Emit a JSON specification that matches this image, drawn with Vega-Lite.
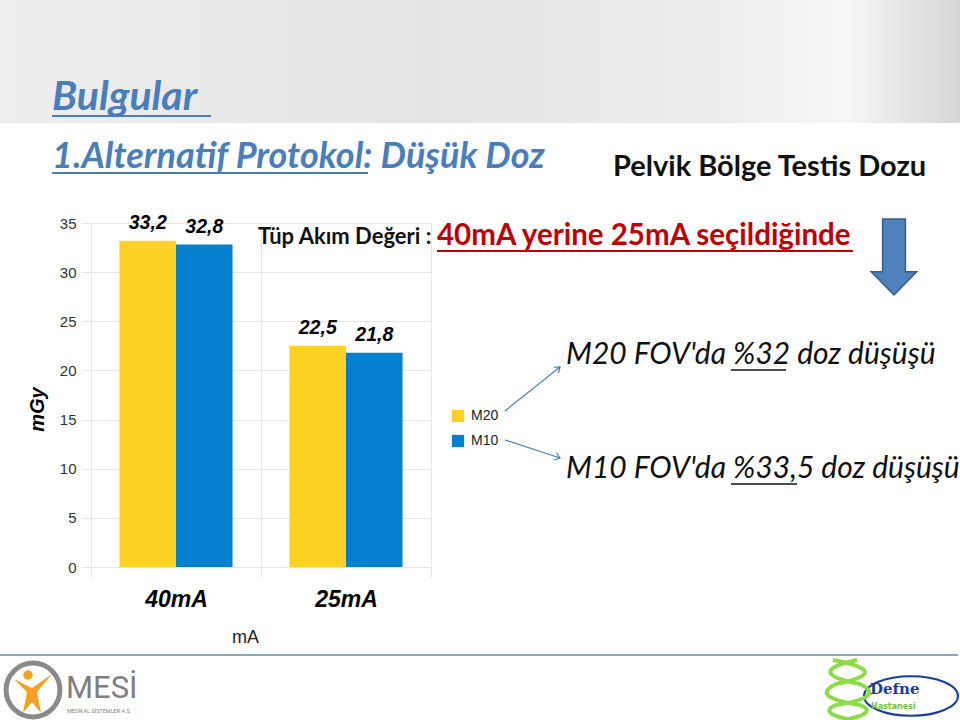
{
  "$schema": "https://vega.github.io/schema/vega-lite/v6.json",
  "width": 340,
  "height": 344,
  "autosize": {"type": "none"},
  "padding": {"left": 91, "top": 223, "right": 529, "bottom": 153},
  "background": "white",
  "data": {"values": [{"note": 1}]},
  "config": {
    "view": {"stroke": null},
    "font": "Liberation Sans",
    "locale": {"number": {"decimal": ",", "thousands": ".", "grouping": [3], "currency": ["", " TL"]}}
  },
  "resolve": {"scale": {"x": "independent", "y": "independent", "color": "independent"}},
  "layer": [
    {
      "mark": {"type": "rect", "fill": {"gradient": "linear", "x1": 0, "x2": 1, "y1": 0, "y2": 0, "stops": [{"offset": 0, "color": "#eeeeee"}, {"offset": 0.45, "color": "#e4e4e4"}, {"offset": 0.75, "color": "#ededed"}, {"offset": 0.88, "color": "#f6f6f6"}, {"offset": 1, "color": "#d6d6d6"}]}},
      "encoding": {
        "x": {"datum": 0, "type": "quantitative", "scale": {"domain": [0, 960], "range": [-91, 869]}, "axis": null},
        "x2": {"datum": 960},
        "y": {"datum": 0, "type": "quantitative", "scale": {"domain": [0, 720], "range": [-223, 497]}, "axis": null},
        "y2": {"datum": 123}
      }
    },
    {
      "mark": {"type": "rule", "stroke": "#86a9b9", "strokeWidth": 2},
      "encoding": {
        "x": {"datum": 0, "type": "quantitative", "scale": {"domain": [0, 960], "range": [-91, 869]}, "axis": null},
        "x2": {"datum": 958},
        "y": {"datum": 655, "type": "quantitative", "scale": {"domain": [0, 720], "range": [-223, 497]}, "axis": null}
      }
    },
    {
      "data": {"values": [
        {"current": "40mA", "series": "M20", "value": 33.2},
        {"current": "40mA", "series": "M10", "value": 32.8},
        {"current": "25mA", "series": "M20", "value": 22.5},
        {"current": "25mA", "series": "M10", "value": 21.8}
      ]},
      "encoding": {
        "x": {
          "field": "current", "type": "nominal", "sort": ["40mA", "25mA"],
          "scale": {"paddingInner": 0, "paddingOuter": 0},
          "axis": {
            "title": "mA", "tickBand": "extent", "grid": true, "gridColor": "#e6e6e6", "domain": false,
            "tickColor": "#e6e6e6", "tickSize": 10, "labelPadding": 11, "labelAngle": 0,
            "labelFont": "Liberation Sans", "labelFontSize": 23, "labelFontStyle": "italic", "labelFontWeight": "bold", "labelColor": "#000",
            "titleFont": "Liberation Sans", "titleFontSize": 18, "titleFontWeight": "normal", "titleColor": "#222",
            "titleX": 154, "titleY": 75, "titleBaseline": "alphabetic", "titleAlign": "center"
          }
        },
        "xOffset": {"field": "series", "type": "nominal", "sort": ["M20", "M10"], "scale": {"paddingInner": 0, "paddingOuter": 0.504}},
        "y": {
          "field": "value", "type": "quantitative", "scale": {"domain": [0, 35], "nice": false},
          "axis": {
            "title": "mGy", "values": [0, 5, 10, 15, 20, 25, 30, 35], "grid": true, "gridColor": "#e6e6e6", "domain": false,
            "tickColor": "#e6e6e6", "tickSize": 9, "labelPadding": 6,
            "labelFont": "Liberation Sans", "labelFontSize": 15, "labelColor": "#333",
            "titleFont": "Liberation Sans", "titleFontSize": 20, "titleFontStyle": "italic", "titleFontWeight": "bold", "titleColor": "#000",
            "titleAngle": 270, "titleX": -54, "titleY": 186, "titleAlign": "center", "titleBaseline": "middle"
          }
        }
      },
      "layer": [
        {
          "mark": {"type": "bar"},
          "encoding": {
            "color": {
              "field": "series", "type": "nominal", "sort": ["M20", "M10"],
              "scale": {"domain": ["M20", "M10"], "range": ["#fdd224", "#0480cf"]},
              "legend": {
                "title": null, "orient": "none", "legendX": 360, "legendY": 186,
                "symbolType": "square", "symbolSize": 150, "symbolStrokeWidth": 0,
                "labelFont": "Liberation Sans", "labelFontSize": 14, "labelColor": "#222", "labelOffset": 6, "rowPadding": 11
              }
            }
          }
        },
        {
          "mark": {"type": "text", "dy": -11.5, "baseline": "alphabetic", "fontStyle": "italic", "fontWeight": "bold", "fontSize": 19.5, "color": "#000", "font": "Liberation Sans"},
          "encoding": {"text": {"field": "value", "type": "quantitative", "format": ".1f"}}
        }
      ]
    },
    {
      "mark": {"type": "text", "align": "left", "baseline": "alphabetic", "font": "Lato", "fontSize": 41, "fontWeight": "bold", "fontStyle": "italic", "color": "#4a7ebb"},
      "encoding": {
        "x": {"datum": 52, "type": "quantitative", "scale": {"domain": [0, 960], "range": [-91, 869]}, "axis": null},
        "y": {"datum": 110, "type": "quantitative", "scale": {"domain": [0, 720], "range": [-223, 497]}, "axis": null},
        "text": {"datum": "Bulgular"}
      }
    },
    {
      "mark": {"type": "rule", "stroke": "#4a7ebb", "strokeWidth": 2},
      "encoding": {
        "x": {"datum": 52, "type": "quantitative", "scale": {"domain": [0, 960], "range": [-91, 869]}, "axis": null},
        "x2": {"datum": 211},
        "y": {"datum": 116, "type": "quantitative", "scale": {"domain": [0, 720], "range": [-223, 497]}, "axis": null}
      }
    },
    {
      "mark": {"type": "text", "align": "left", "baseline": "alphabetic", "font": "Lato", "fontSize": 36, "fontWeight": "bold", "fontStyle": "italic", "color": "#4a7ebb"},
      "encoding": {
        "x": {"datum": 52, "type": "quantitative", "scale": {"domain": [0, 960], "range": [-91, 869]}, "axis": null},
        "y": {"datum": 168, "type": "quantitative", "scale": {"domain": [0, 720], "range": [-223, 497]}, "axis": null},
        "text": {"datum": "1.Alternatif Protokol: Düşük Doz"}
      }
    },
    {
      "mark": {"type": "rule", "stroke": "#4a7ebb", "strokeWidth": 2},
      "encoding": {
        "x": {"datum": 52, "type": "quantitative", "scale": {"domain": [0, 960], "range": [-91, 869]}, "axis": null},
        "x2": {"datum": 368},
        "y": {"datum": 173, "type": "quantitative", "scale": {"domain": [0, 720], "range": [-223, 497]}, "axis": null}
      }
    },
    {
      "mark": {"type": "text", "align": "left", "baseline": "alphabetic", "font": "Lato", "fontSize": 29, "fontWeight": "bold", "color": "#111"},
      "encoding": {
        "x": {"datum": 613, "type": "quantitative", "scale": {"domain": [0, 960], "range": [-91, 869]}, "axis": null},
        "y": {"datum": 176, "type": "quantitative", "scale": {"domain": [0, 720], "range": [-223, 497]}, "axis": null},
        "text": {"datum": "Pelvik Bölge Testis Dozu"}
      }
    },
    {
      "mark": {"type": "text", "align": "left", "baseline": "alphabetic", "font": "Lato", "fontSize": 22, "fontWeight": "bold", "color": "#111"},
      "encoding": {
        "x": {"datum": 258, "type": "quantitative", "scale": {"domain": [0, 960], "range": [-91, 869]}, "axis": null},
        "y": {"datum": 244, "type": "quantitative", "scale": {"domain": [0, 720], "range": [-223, 497]}, "axis": null},
        "text": {"datum": "Tüp Akım Değeri :"}
      }
    },
    {
      "mark": {"type": "text", "align": "left", "baseline": "alphabetic", "font": "Lato", "fontSize": 29.5, "fontWeight": "bold", "color": "#c00000"},
      "encoding": {
        "x": {"datum": 437, "type": "quantitative", "scale": {"domain": [0, 960], "range": [-91, 869]}, "axis": null},
        "y": {"datum": 245, "type": "quantitative", "scale": {"domain": [0, 720], "range": [-223, 497]}, "axis": null},
        "text": {"datum": "40mA yerine 25mA seçildiğinde"}
      }
    },
    {
      "mark": {"type": "rule", "stroke": "#c00000", "strokeWidth": 2},
      "encoding": {
        "x": {"datum": 437, "type": "quantitative", "scale": {"domain": [0, 960], "range": [-91, 869]}, "axis": null},
        "x2": {"datum": 853},
        "y": {"datum": 251, "type": "quantitative", "scale": {"domain": [0, 720], "range": [-223, 497]}, "axis": null}
      }
    },
    {
      "mark": {"type": "point", "shape": "M-0.3,-1L0.3,-1L0.3,0.39L0.6,0.39L0,1L-0.6,0.39L-0.3,0.39Z", "size": 5776, "filled": true, "fill": "#4f81bd", "stroke": "#385d8a", "strokeWidth": 1.5, "opacity": 1},
      "encoding": {
        "x": {"datum": 894, "type": "quantitative", "scale": {"domain": [0, 960], "range": [-91, 869]}, "axis": null},
        "y": {"datum": 257, "type": "quantitative", "scale": {"domain": [0, 720], "range": [-223, 497]}, "axis": null}
      }
    },
    {
      "mark": {"type": "text", "align": "left", "baseline": "alphabetic", "font": "Lato", "fontSize": 30, "fontStyle": "italic", "color": "#111"},
      "encoding": {
        "x": {"datum": 566, "type": "quantitative", "scale": {"domain": [0, 960], "range": [-91, 869]}, "axis": null},
        "y": {"datum": 364, "type": "quantitative", "scale": {"domain": [0, 720], "range": [-223, 497]}, "axis": null},
        "text": {"datum": "M20 FOV'da %32 doz düşüşü"}
      }
    },
    {
      "mark": {"type": "rule", "stroke": "#111", "strokeWidth": 1.5},
      "encoding": {
        "x": {"datum": 731, "type": "quantitative", "scale": {"domain": [0, 960], "range": [-91, 869]}, "axis": null},
        "x2": {"datum": 786},
        "y": {"datum": 370, "type": "quantitative", "scale": {"domain": [0, 720], "range": [-223, 497]}, "axis": null}
      }
    },
    {
      "mark": {"type": "text", "align": "left", "baseline": "alphabetic", "font": "Lato", "fontSize": 30, "fontStyle": "italic", "color": "#111"},
      "encoding": {
        "x": {"datum": 566, "type": "quantitative", "scale": {"domain": [0, 960], "range": [-91, 869]}, "axis": null},
        "y": {"datum": 478, "type": "quantitative", "scale": {"domain": [0, 720], "range": [-223, 497]}, "axis": null},
        "text": {"datum": "M10 FOV'da %33,5 doz düşüşü"}
      }
    },
    {
      "mark": {"type": "rule", "stroke": "#111", "strokeWidth": 1.5},
      "encoding": {
        "x": {"datum": 731, "type": "quantitative", "scale": {"domain": [0, 960], "range": [-91, 869]}, "axis": null},
        "x2": {"datum": 797},
        "y": {"datum": 484, "type": "quantitative", "scale": {"domain": [0, 720], "range": [-223, 497]}, "axis": null}
      }
    },
    {
      "mark": {"type": "rule", "stroke": "#4a7ebb", "strokeWidth": 1.2},
      "encoding": {
        "x": {"datum": 505, "type": "quantitative", "scale": {"domain": [0, 960], "range": [-91, 869]}, "axis": null},
        "x2": {"datum": 560},
        "y": {"datum": 411, "type": "quantitative", "scale": {"domain": [0, 720], "range": [-223, 497]}, "axis": null},
        "y2": {"datum": 367}
      }
    },
    {
      "mark": {"type": "rule", "stroke": "#4a7ebb", "strokeWidth": 1.2},
      "encoding": {
        "x": {"datum": 505, "type": "quantitative", "scale": {"domain": [0, 960], "range": [-91, 869]}, "axis": null},
        "x2": {"datum": 560},
        "y": {"datum": 440, "type": "quantitative", "scale": {"domain": [0, 720], "range": [-223, 497]}, "axis": null},
        "y2": {"datum": 458}
      }
    },
    {
      "mark": {"type": "point", "shape": "M-1,-0.75L0,0L-1,0.75", "size": 100, "filled": false, "stroke": "#4a7ebb", "strokeWidth": 1.2, "angle": -39, "opacity": 1},
      "encoding": {
        "x": {"datum": 560, "type": "quantitative", "scale": {"domain": [0, 960], "range": [-91, 869]}, "axis": null},
        "y": {"datum": 367, "type": "quantitative", "scale": {"domain": [0, 720], "range": [-223, 497]}, "axis": null}
      }
    },
    {
      "mark": {"type": "point", "shape": "M-1,-0.75L0,0L-1,0.75", "size": 100, "filled": false, "stroke": "#4a7ebb", "strokeWidth": 1.2, "angle": 18, "opacity": 1},
      "encoding": {
        "x": {"datum": 560, "type": "quantitative", "scale": {"domain": [0, 960], "range": [-91, 869]}, "axis": null},
        "y": {"datum": 458, "type": "quantitative", "scale": {"domain": [0, 720], "range": [-223, 497]}, "axis": null}
      }
    },
    {
      "mark": {"type": "point", "shape": "circle", "size": 2900, "filled": false, "stroke": "#8a8a8a", "strokeWidth": 5, "opacity": 1},
      "encoding": {
        "x": {"datum": 33, "type": "quantitative", "scale": {"domain": [0, 960], "range": [-91, 869]}, "axis": null},
        "y": {"datum": 690, "type": "quantitative", "scale": {"domain": [0, 720], "range": [-223, 497]}, "axis": null}
      }
    },
    {
      "mark": {"type": "point", "shape": "M-0.9,-0.7L-0.25,-0.05L-0.45,1L0,0.45L0.45,1L0.25,-0.05L1,-0.95L0,-0.25Z", "size": 1600, "filled": true, "fill": "#f5a020", "strokeWidth": 0, "opacity": 1},
      "encoding": {
        "x": {"datum": 32, "type": "quantitative", "scale": {"domain": [0, 960], "range": [-91, 869]}, "axis": null},
        "y": {"datum": 693, "type": "quantitative", "scale": {"domain": [0, 720], "range": [-223, 497]}, "axis": null}
      }
    },
    {
      "mark": {"type": "point", "shape": "circle", "size": 90, "filled": true, "fill": "#f5a020", "strokeWidth": 0, "opacity": 1},
      "encoding": {
        "x": {"datum": 28, "type": "quantitative", "scale": {"domain": [0, 960], "range": [-91, 869]}, "axis": null},
        "y": {"datum": 675, "type": "quantitative", "scale": {"domain": [0, 720], "range": [-223, 497]}, "axis": null}
      }
    },
    {
      "mark": {"type": "text", "align": "left", "baseline": "alphabetic", "font": "Roboto", "fontSize": 31, "color": "#7f7f7f"},
      "encoding": {
        "x": {"datum": 66, "type": "quantitative", "scale": {"domain": [0, 960], "range": [-91, 869]}, "axis": null},
        "y": {"datum": 698, "type": "quantitative", "scale": {"domain": [0, 720], "range": [-223, 497]}, "axis": null},
        "text": {"datum": "MESİ"}
      }
    },
    {
      "mark": {"type": "text", "align": "left", "baseline": "alphabetic", "font": "Roboto", "fontSize": 5.5, "color": "#7f7f7f"},
      "encoding": {
        "x": {"datum": 67, "type": "quantitative", "scale": {"domain": [0, 960], "range": [-91, 869]}, "axis": null},
        "y": {"datum": 713, "type": "quantitative", "scale": {"domain": [0, 720], "range": [-223, 497]}, "axis": null},
        "text": {"datum": "MEDİKAL SİSTEMLER A.Ş."}
      }
    },
    {
      "mark": {"type": "point", "shape": "M-1,0A1,0.42 0 1,0 1,0A1,0.42 0 1,0 -1,0Z", "size": 8836, "filled": false, "stroke": "#1c3d9c", "strokeWidth": 2, "opacity": 1},
      "encoding": {
        "x": {"datum": 911, "type": "quantitative", "scale": {"domain": [0, 960], "range": [-91, 869]}, "axis": null},
        "y": {"datum": 696, "type": "quantitative", "scale": {"domain": [0, 720], "range": [-223, 497]}, "axis": null}
      }
    },
    {
      "mark": {"type": "point", "shape": "M-0.5,-1C0.9,-0.75 0.9,-0.45 -0.4,-0.2C-0.9,0.05 -0.9,0.3 0.4,0.5C0.9,0.7 0.5,0.9 -0.2,1M0.3,-1C-0.9,-0.75 -0.9,-0.45 0.4,-0.2C0.9,0.05 0.9,0.3 -0.4,0.5C-0.9,0.7 -0.5,0.9 0.2,1", "size": 3600, "filled": false, "stroke": "#8edb4a", "strokeWidth": 4, "opacity": 1},
      "encoding": {
        "x": {"datum": 848, "type": "quantitative", "scale": {"domain": [0, 960], "range": [-91, 869]}, "axis": null},
        "y": {"datum": 690, "type": "quantitative", "scale": {"domain": [0, 720], "range": [-223, 497]}, "axis": null}
      }
    },
    {
      "mark": {"type": "text", "align": "left", "baseline": "alphabetic", "font": "DejaVu Serif", "fontSize": 15, "fontWeight": "bold", "color": "#1c3d9c"},
      "encoding": {
        "x": {"datum": 870, "type": "quantitative", "scale": {"domain": [0, 960], "range": [-91, 869]}, "axis": null},
        "y": {"datum": 694, "type": "quantitative", "scale": {"domain": [0, 720], "range": [-223, 497]}, "axis": null},
        "text": {"datum": "Defne"}
      }
    },
    {
      "mark": {"type": "text", "align": "left", "baseline": "alphabetic", "font": "DejaVu Sans", "fontSize": 8, "fontWeight": "bold", "color": "#7ac142"},
      "encoding": {
        "x": {"datum": 871, "type": "quantitative", "scale": {"domain": [0, 960], "range": [-91, 869]}, "axis": null},
        "y": {"datum": 709, "type": "quantitative", "scale": {"domain": [0, 720], "range": [-223, 497]}, "axis": null},
        "text": {"datum": "Hastanesi"}
      }
    }
  ]
}
